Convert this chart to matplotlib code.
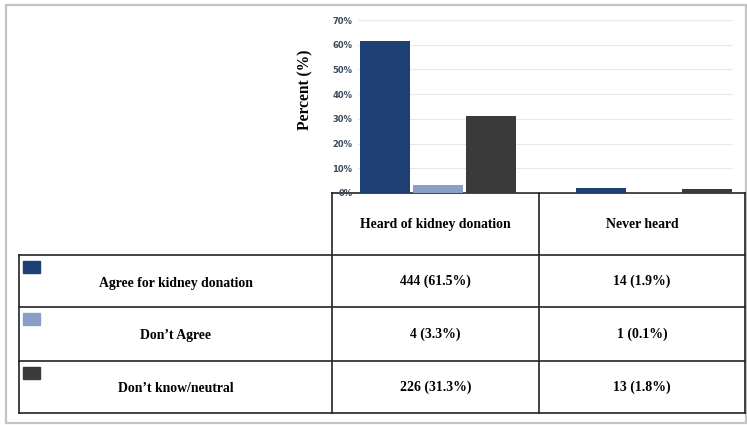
import matplotlib.pyplot as plt
from matplotlib.patches import Rectangle

# awareness groups (columns) and attitude (rows)
groups = ['Heard of kidney donation', 'Never heard']
attitudes = ['Agree for kidney donation', 'Don\u2019t Agree', 'Don\u2019t know/neutral']
counts = [[444, 14], [4, 1], [226, 13]]
percents = [[61.5, 1.9], [3.3, 0.1], [31.3, 1.8]]
yticks = [0, 10, 20, 30, 40, 50, 60, 70]

colors = ['#1d3f74', '#8a9fc6', '#3a3a3a']

W, H = 747, 425
fig = plt.figure(figsize=(W / 100, H / 100), dpi=100)

def px_rect(x0, x1, ytop, ybot):
    return [x0 / W, 1 - ybot / H, (x1 - x0) / W, (ybot - ytop) / H]

# table / frame layer in pixel coordinates
tab = fig.add_axes([0, 0, 1, 1])
tab.set_xlim(0, W)
tab.set_ylim(H, 0)
tab.axis('off')

tab.add_patch(Rectangle((6, 5), 740, 418, fill=False, ec='#c4c4c4', lw=1.6))

# bar chart
ax = fig.add_axes(px_rect(358, 733, 20, 193))
ax.set_xlim(-0.370, 1.366)
ax.set_ylim(0, 70)
bw = 0.2315
step = 0.245
for i, name in enumerate(attitudes):
    xs = [g + (i - 1) * step for g in range(len(groups))]
    ax.bar(xs, percents[i], width=bw, color=colors[i], zorder=3)

ax.set_yticks(yticks)
ax.set_yticklabels([f'{t}%' for t in yticks])
ax.tick_params(axis='y', length=0, pad=4, labelsize=6, labelcolor='#3b4a5c')
for lab in ax.get_yticklabels():
    lab.set_fontweight('bold')
ax.set_xticks([])
ax.yaxis.grid(True, color='#e8e8e8', lw=0.8, zorder=0)
for s in ax.spines.values():
    s.set_visible(False)
ax.patch.set_alpha(0)

fig.text(305 / W, 1 - 90 / H, 'Percent (%)', rotation=90, ha='center', va='center',
         family='Liberation Serif', fontweight='bold', fontsize=11.2)

# table grid
lc = '#222222'
lw = 1.2
col_x = [19, 332, 539, 745]
row_y = [193, 255, 307, 361, 413]

tab.plot([col_x[1], col_x[3]], [row_y[0], row_y[0]], color=lc, lw=lw)
for y in row_y[1:]:
    tab.plot([col_x[0], col_x[3]], [y, y], color=lc, lw=lw)
tab.plot([col_x[0], col_x[0]], [row_y[1], row_y[4]], color=lc, lw=lw)
for x in col_x[1:]:
    tab.plot([x, x], [row_y[0], row_y[4]], color=lc, lw=lw)

tfont = dict(family='Liberation Serif', fontweight='bold', fontsize=9.9, ha='center', va='center')

for j, g in enumerate(groups):
    tab.text((col_x[j + 1] + col_x[j + 2]) / 2, (row_y[0] + row_y[1]) / 2, g, **tfont)

for i, name in enumerate(attitudes):
    yc = (row_y[i + 1] + row_y[i + 2]) / 2
    tab.add_patch(Rectangle((23, row_y[i + 1] + 6), 17, 12, color=colors[i]))
    tab.text((col_x[0] + col_x[1]) / 2, yc + 2, name, **tfont)
    for j in range(len(groups)):
        tab.text((col_x[j + 1] + col_x[j + 2]) / 2, yc, f'{counts[i][j]} ({percents[i][j]}%)', **tfont)

fig.savefig('out.png', dpi=100)
